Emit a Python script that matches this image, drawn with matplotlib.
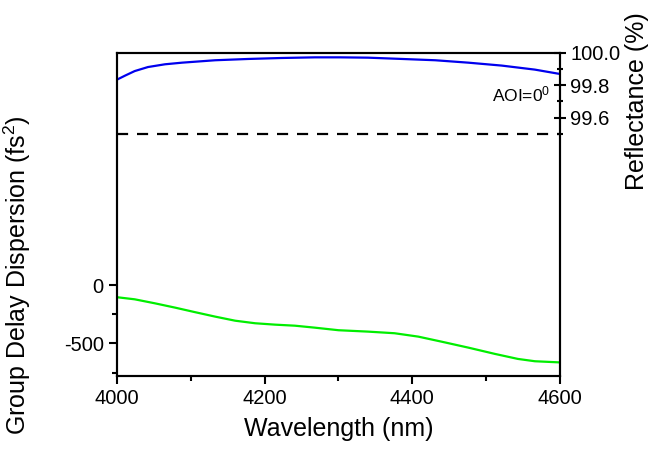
import matplotlib
matplotlib.use("Agg")
import matplotlib.pyplot as plt
from matplotlib.ticker import FixedLocator

plt.rcParams['font.family'] = ['Liberation Sans', 'DejaVu Sans']
plt.rcParams['mathtext.fontset'] = 'custom'
plt.rcParams['mathtext.rm'] = 'Liberation Sans'
plt.rcParams['mathtext.it'] = 'Liberation Sans'
plt.rcParams['axes.unicode_minus'] = False

# Data
gdd_wl = [4000, 4024, 4051, 4079, 4106, 4133, 4160, 4187, 4214, 4241, 4268, 4300,
          4340, 4376, 4408, 4440, 4476, 4512, 4543, 4566, 4600]
gdd_val = [-102, -120, -154, -192, -231, -269, -304, -326, -338, -347, -364, -386,
           -398, -412, -441, -485, -536, -590, -633, -653, -663]

refl_wl = [4000, 4011, 4024, 4042, 4065, 4088, 4133, 4178, 4223, 4268, 4302, 4340,
           4386, 4431, 4476, 4521, 4566, 4600]
refl_val = [99.835, 99.860, 99.888, 99.913, 99.930, 99.940, 99.955, 99.963, 99.969,
            99.973, 99.973, 99.971, 99.963, 99.955, 99.940, 99.922, 99.897, 99.870]

ref_wl = [4000, 4600]
ref_val = [99.5, 99.5]

x_ticks = [4000, 4200, 4400, 4600]
left_ticks = [-500, 0]
right_ticks = [99.6, 99.8, 100.0]

fig = plt.figure(figsize=(6.5, 4.54), dpi=100)
ax = fig.add_axes([0.18, 0.1718, 0.6815, 0.7115])
ax2 = ax.twinx()

ax.plot(gdd_wl, gdd_val, color='#00ee00', lw=1.6)
ax2.plot(refl_wl, refl_val, color='#0000ee', lw=1.6)
ax2.plot(ref_wl, ref_val, color='black', lw=1.6, ls=(0, (5, 4)))

ax.set_xlim(4000, 4600)
ax.set_ylim(-780, 2000)
ax2.set_ylim(98.0, 100.0)

ax.set_xticks(x_ticks)
ax.xaxis.set_minor_locator(FixedLocator([4100, 4300, 4500]))
ax.set_yticks(left_ticks)
ax.yaxis.set_minor_locator(FixedLocator([-750, -250]))
ax2.set_yticks(right_ticks)
ax2.set_yticklabels(['99.6', '99.8', '100.0'])
ax2.yaxis.set_minor_locator(FixedLocator([99.5, 99.7, 99.9]))

for a in (ax, ax2):
    for s in a.spines.values():
        s.set_linewidth(1.5)

ax.tick_params(axis='both', which='major', direction='out', length=6, width=1.5, labelsize=14.5)
ax.tick_params(axis='both', which='minor', direction='out', length=3.5, width=1.5)
ax2.tick_params(axis='y', which='major', direction='inout', length=8, width=1.5, labelsize=14.5)
ax2.tick_params(axis='y', which='minor', direction='inout', length=5, width=1.5)

ax.set_xlabel('Wavelength (nm)', fontsize=18, labelpad=6)
ax.set_ylabel('Group Delay Dispersion (fs$^2$)', fontsize=18)
ax.yaxis.set_label_coords(-0.19, 0.313)
ax2.set_ylabel('Reflectance (%)', fontsize=18)
ax2.yaxis.set_label_coords(1.147, 0.851)

ax2.text(0.977, 0.872, 'AOI=0$^0$', transform=ax.transAxes, ha='right', va='center', fontsize=12.5)

fig.savefig('out.png', dpi=100)
